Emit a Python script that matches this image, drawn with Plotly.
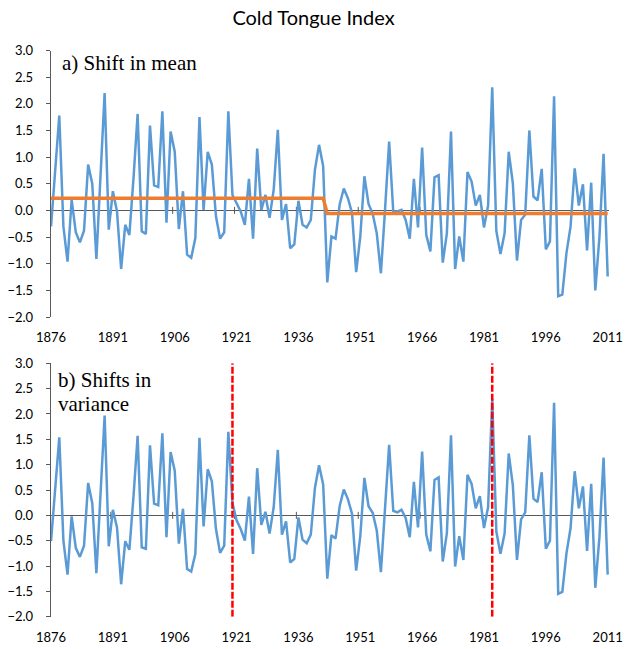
import plotly.graph_objects as go

# Annual Cold Tongue Index, 1876-2011
years = list(range(1876, 2012))

# a) index with its mean-shift fit
cti_a = [
    -0.30, 0.75, 1.78, -0.30, -0.96, 0.20, -0.41, -0.60, -0.38, 0.86,
    0.50, -0.91, 0.65, 2.20, -0.36, 0.36, -0.02, -1.10, -0.27, -0.46,
    0.60, 1.81, -0.39, -0.44, 1.59, 0.47, 0.44, 1.86, -0.23, 1.48,
    1.10, -0.35, 0.36, -0.83, -0.89, -0.52, 1.75, 0.01, 1.10, 0.86,
    -0.11, -0.53, -0.41, 1.86, 0.29, 0.14, -0.02, -0.27, 0.59, -0.53,
    1.16, 0.01, 0.29, -0.14, 0.39, 1.51, -0.18, 0.12, -0.71, -0.64,
    0.18, -0.27, -0.32, -0.18, 0.76, 1.23, 0.83, -1.35, -0.49, -0.53,
    0.11, 0.41, 0.23, -0.05, -1.16, -0.49, 0.64, 0.12, -0.06, -0.43,
    -1.18, 0.01, 1.29, -0.02, -0.02, 0.01, -0.18, -0.53, 0.59, -0.32,
    1.18, -0.46, -0.77, 0.62, 0.66, -0.98, -0.43, 1.48, -1.10, -0.49,
    -0.96, 0.72, 0.54, 0.09, 0.29, -0.32, 0.09, 2.31, -0.39, -0.82,
    -0.43, 1.10, 0.51, -0.94, -0.18, -0.08, 1.50, 0.26, 0.19, 0.78,
    -0.73, -0.58, 2.14, -1.61, -1.58, -0.80, -0.30, 0.79, 0.09, 0.49,
    -0.75, 0.52, -1.50, -0.50, 1.06, -1.24,
]

# b) index after removing the mean shift
cti_b = [
    -0.51, 0.50, 1.54, -0.50, -1.17, -0.02, -0.64, -0.82, -0.60, 0.64,
    0.24, -1.14, 0.42, 1.97, -0.61, 0.11, -0.24, -1.36, -0.51, -0.68,
    0.37, 1.57, -0.63, -0.66, 1.38, 0.23, 0.20, 1.62, -0.43, 1.25,
    0.88, -0.56, 0.13, -1.06, -1.11, -0.76, 1.53, -0.22, 0.91, 0.67,
    -0.27, -0.74, -0.60, 1.65, 0.24, -0.10, -0.27, -0.50, 0.37, -0.76,
    0.93, -0.19, 0.07, -0.36, 0.16, 1.29, -0.38, -0.12, -0.93, -0.86,
    -0.04, -0.48, -0.55, -0.38, 0.54, 0.99, 0.61, -1.25, -0.39, -0.46,
    0.18, 0.51, 0.32, 0.03, -1.09, -0.41, 0.74, 0.18, 0.05, -0.30,
    -1.12, 0.06, 1.39, 0.09, 0.06, 0.11, -0.05, -0.43, 0.66, -0.24,
    1.26, -0.38, -0.71, 0.70, 0.75, -0.91, -0.35, 1.58, -1.01, -0.41,
    -0.88, 0.80, 0.62, 0.14, 0.38, -0.25, 0.16, 2.30, -0.32, -0.76,
    -0.36, 1.22, 0.59, -0.88, -0.08, 0.06, 1.58, 0.33, 0.26, 0.85,
    -0.66, -0.50, 2.22, -1.55, -1.51, -0.75, -0.25, 0.87, 0.14, 0.57,
    -0.70, 0.62, -1.43, -0.43, 1.14, -1.17,
]

# Mean regimes: first year of each regime and its level
mean_starts = [1876, 1943]
mean_levels = [0.23, -0.06]

# Variance change points
variance_breaks = [1920, 1983]

# Axis labelling
tick_years = years[::15]
tick_text = [str(y) for y in tick_years]
y_ticks = [-2.0, -1.5, -1.0, -0.5, 0.0, 0.5, 1.0, 1.5, 2.0, 2.5, 3.0]
y_min, y_max = -2.0, 3.0

BLUE = "#5B9BD5"
ORANGE = "#ED7D31"
AXIS = "#595959"
TICK_FONT = dict(family="Lato", size=13, color="#000000")


def regime_level(year):
    level = mean_levels[0]
    for start, lvl in zip(mean_starts, mean_levels):
        if year >= start:
            level = lvl
    return level


mean_fit = [regime_level(y) for y in years]

# small marks on the zero line between category groups
minor_x = [y - 0.5 for y in tick_years[1:]]

fig = go.Figure()

for xa, ya in (("x", "y"), ("x2", "y2")):
    fig.add_trace(go.Scatter(
        x=minor_x, y=[0] * len(minor_x), mode="markers",
        marker=dict(symbol="line-ns", size=5, color=AXIS,
                    line=dict(color=AXIS, width=1)),
        xaxis=xa, yaxis=ya, hoverinfo="skip", showlegend=False,
    ))

fig.add_trace(go.Scatter(
    x=years, y=cti_a, mode="lines", line=dict(color=BLUE, width=2.5),
    xaxis="x", yaxis="y", showlegend=False,
))
fig.add_trace(go.Scatter(
    x=years, y=mean_fit, mode="lines", line=dict(color=ORANGE, width=3.5),
    xaxis="x", yaxis="y", showlegend=False,
))
fig.add_trace(go.Scatter(
    x=years, y=cti_b, mode="lines", line=dict(color=BLUE, width=2.5),
    xaxis="x2", yaxis="y2", showlegend=False,
))
for yr in variance_breaks:
    fig.add_trace(go.Scatter(
        x=[yr, yr], y=[y_min, y_max], mode="lines",
        line=dict(color="#FF0000", width=2.5, dash="7px,2px"),
        xaxis="x2", yaxis="y2", showlegend=False,
    ))

x_domain = [50.7 / 627, 609 / 627]
x_range = [1875.92, 2011.32]

xaxis_common = dict(
    domain=x_domain, range=x_range, tickvals=tick_years, ticktext=tick_text,
    showgrid=False, zeroline=False, showline=False, ticks="",
    tickfont=TICK_FONT, ticklabelstandoff=11, automargin=False,
)
yaxis_common = dict(
    range=[y_min, y_max], tickvals=y_ticks, tickformat=".1f",
    showgrid=False, showline=True, linecolor=AXIS, linewidth=1,
    ticks="outside", ticklen=4, tickcolor=AXIS, tickwidth=1,
    zeroline=True, zerolinecolor=AXIS, zerolinewidth=1.2,
    tickfont=TICK_FONT, ticklabelstandoff=10, automargin=False,
)

fig.update_layout(
    width=627, height=649, autosize=False,
    margin=dict(l=0, r=0, t=0, b=0),
    paper_bgcolor="white", plot_bgcolor="white",
    title=dict(text="Cold Tongue Index", x=0.5, xanchor="center",
               y=1 - 18 / 649, yanchor="middle",
               font=dict(family="Lato", size=20, color="#000000")),
    xaxis=dict(anchor="y", **xaxis_common),
    yaxis=dict(anchor="x", domain=[332 / 649, 598.5 / 649], **yaxis_common),
    xaxis2=dict(anchor="y2", **xaxis_common),
    yaxis2=dict(anchor="x2", domain=[32.3 / 649, 285.7 / 649], **yaxis_common),
    annotations=[
        dict(text="a) Shift in mean", xref="paper", yref="paper",
             x=60 / 627, y=1 - 63 / 649, xanchor="left", yanchor="middle",
             showarrow=False,
             font=dict(family="Liberation Serif", size=21, color="#000000")),
        dict(text="b) Shifts in", xref="paper", yref="paper",
             x=56 / 627, y=1 - 380 / 649, xanchor="left", yanchor="middle",
             showarrow=False,
             font=dict(family="Liberation Serif", size=21, color="#000000")),
        dict(text="variance", xref="paper", yref="paper",
             x=56 / 627, y=1 - 404 / 649, xanchor="left", yanchor="middle",
             showarrow=False,
             font=dict(family="Liberation Serif", size=21, color="#000000")),
    ],
)

fig.write_html("out.html")
